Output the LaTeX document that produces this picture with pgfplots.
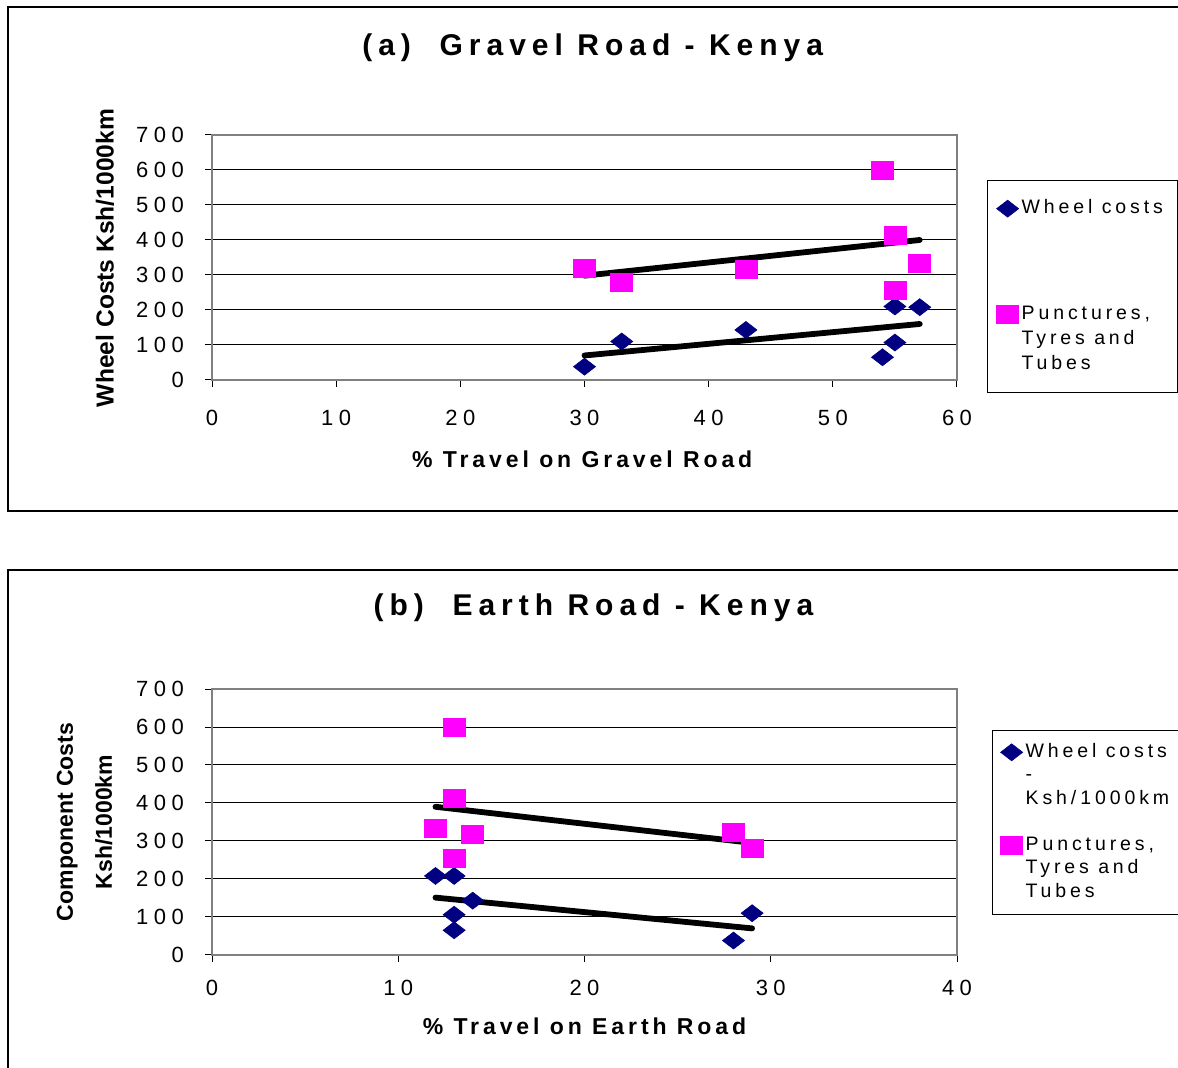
\documentclass[border=0pt]{standalone}
\usepackage{fontspec}
\setmainfont{Liberation Sans}
\newfontfamily\tickfont[LetterSpace=25]{Liberation Sans}
\newfontfamily\titlefont[LetterSpace=20]{Liberation Sans}
\newfontfamily\xlabfont[LetterSpace=17]{Liberation Sans}
\newfontfamily\legfont[LetterSpace=20]{Liberation Sans}
\usepackage{pgfplots}
\pgfplotsset{compat=1.18}
\definecolor{navy}{HTML}{000080}
\definecolor{mag}{HTML}{FF00FF}
\definecolor{framegray}{HTML}{808080}
\pgfplotsset{
  mystyle/.style={
    scale only axis, width=372.5pt,
    axis line style={draw=framegray, line width=1.3pt},
    ymin=0, ymax=700, ytick={0,100,...,700},
    ymajorgrids, major grid style={black, line width=0.5pt},
    tick align=outside, tick style={black, line width=0.5pt}, major tick length=3.5pt,
    xtick pos=lower, ytick pos=left,
    ticklabel style={font=\tickfont\fontsize{11}{13}\selectfont},
    /pgf/number format/assume math mode=true,
    yticklabel style={xshift=-7pt},
    xticklabel style={yshift=-8pt},
    title style={font=\titlefont\bfseries\fontsize{15}{18}\selectfont, anchor=center},
    xlabel style={font=\xlabfont\bfseries\fontsize{11.5}{14}\selectfont, anchor=center},
    ylabel style={font=\bfseries\fontsize{11.5}{19.5}\selectfont, anchor=center, align=center},
    legend cell align=left,
    legend image code/.code={\draw[##1] plot coordinates {(0pt,0pt)};},
  },
  wheel/.style={only marks, mark=diamond*, mark size=4.25pt,
    mark options={draw=navy, fill=navy, line width=0.3pt, xscale=1.73}},
  punct/.style={only marks, mark=square*, mark size=4.5pt,
    mark options={draw=mag, fill=mag, line width=0.3pt, xscale=1.22}},
  trend/.style={black, line width=2.9pt, line cap=round, forget plot},
}
\begin{document}
\begin{tikzpicture}
\useasboundingbox (0pt,0pt) rectangle (589pt,534pt);
% panel frames
\draw[line width=0.6pt] (600pt,530.5pt) -- (4pt,530.5pt) -- (4pt,278.5pt) -- (600pt,278.5pt);
\draw[line width=0.6pt] (600pt,249pt) -- (4pt,249pt) -- (4pt,-10pt);

% ---------- (a) ----------
\begin{axis}[mystyle,
  at={(106pt,344pt)}, anchor=south west, height=122.5pt,
  xmin=0, xmax=60, xtick={0,10,...,60},
  title={(a)\ \ Gravel Road - Kenya},
  title style={at={(axis description cs:0.511,1.306)}},
  xlabel={\% Travel on Gravel Road},
  xlabel style={at={(axis description cs:0.497,-0.322)}},
  ylabel={Wheel Costs Ksh/1000km},
  ylabel style={at={(axis description cs:-0.1436,0.498)}, font=\bfseries\fontsize{12.3}{14}\selectfont},
  legend style={at={(axis description cs:1.0403,0.816)}, anchor=north west,
    draw=black, line width=0.6pt, inner xsep=4.5pt, inner ysep=9pt,
    row sep=2.5pt, column sep=0pt,
    font=\legfont\fontsize{9.75}{12.5}\selectfont, cells={anchor=west},
    nodes={inner ysep=0pt, inner xsep=1.5pt, text height=7.5pt, text depth=2.5pt}},
]
\addplot[wheel] coordinates {(30,38) (33,110) (43,143) (54,65) (55,107) (55,210) (57,208)};
\addlegendentry{\makebox[72pt][l]{Wheel costs}}
\addlegendimage{empty legend}
\addlegendentry[text height=38pt, text depth=0pt]{}
\addplot[punct] coordinates {(30,320) (33,278) (43,316) (54,600) (55,413) (55,256) (57,333)};
\addlegendentry{Punctures,}
\addlegendimage{empty legend}
\addlegendentry{Tyres and}
\addlegendimage{empty legend}
\addlegendentry{Tubes}
\addplot[trend] coordinates {(30,70) (57,160)};
\addplot[trend] coordinates {(30,298) (57,400)};
\end{axis}

% ---------- (b) ----------
\begin{axis}[mystyle,
  at={(106pt,56.5pt)}, anchor=south west, height=133pt,
  xmin=0, xmax=40, xtick={0,10,...,40},
  xticklabel style={yshift=2.5pt},
  title={(b)\ \ Earth Road - Kenya},
  title style={at={(axis description cs:0.512,1.26)}},
  xlabel={\% Travel on Earth Road},
  xlabel style={at={(axis description cs:0.5,-0.267)}},
  ylabel={Component Costs\\Ksh/1000km},
  ylabel style={at={(axis description cs:-0.171,0.5)}},
  legend style={at={(axis description cs:1.047,0.847)}, anchor=north west,
    draw=black, line width=0.6pt, inner xsep=4pt, inner ysep=6pt,
    row sep=1.75pt, column sep=0pt,
    font=\legfont\fontsize{9.75}{11.5}\selectfont, cells={anchor=west},
    nodes={inner ysep=0pt, inner xsep=1.5pt, text height=7.5pt, text depth=2.5pt}},
]
\addplot[wheel] coordinates {(12,208) (13,208) (13,106) (13,65) (14,143) (28,38) (29,110)};
\addlegendentry{\makebox[80pt][l]{Wheel costs}}
\addlegendimage{empty legend}
\addlegendentry{-}
\addlegendimage{empty legend}
\addlegendentry{Ksh/1000km}
\addlegendimage{empty legend}
\addlegendentry[text height=9.5pt, text depth=0pt]{}
\addplot[punct] coordinates {(13,600) (13,412) (12,333) (14,318) (13,255) (28,322) (29,280)};
\addlegendentry{Punctures,}
\addlegendimage{empty legend}
\addlegendentry{Tyres and}
\addlegendimage{empty legend}
\addlegendentry{Tubes}
\addplot[trend] coordinates {(12,151) (29,70)};
\addplot[trend] coordinates {(12,390) (29,295)};
\end{axis}
\end{tikzpicture}
\end{document}
